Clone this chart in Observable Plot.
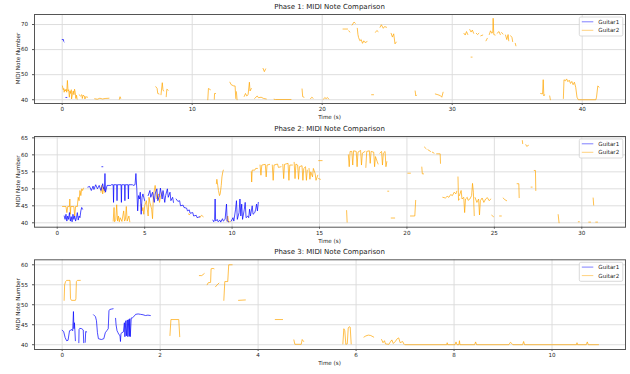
<!DOCTYPE html>
<html><head><meta charset="utf-8">
<script src="https://cdn.jsdelivr.net/npm/d3@7"></script>
<script src="https://cdn.jsdelivr.net/npm/@observablehq/plot@0.6"></script>
<style>
body{margin:0;background:#fff;}
#chart{position:relative;width:630px;height:374px;overflow:hidden;background:#fff;}
#chart svg{position:absolute;left:0;}
</style></head><body><div id="chart"></div>
<script>
// ---------- DATA (segments of [time s, MIDI note]) ----------
const seriesNames = ["Guitar1", "Guitar2"];
const panelTitles = ["Phase 1: MIDI Note Comparison", "Phase 2: MIDI Note Comparison", "Phase 3: MIDI Note Comparison"];

const phase1XTicks = [0, 10, 20, 30, 40];
const phase1YTicks = [40, 50, 60, 70];
const phase2XTicks = [0, 5, 10, 15, 20, 25, 30];
const phase2YTicks = [40, 45, 50, 55, 60, 65];
const phase3XTicks = [0, 2, 4, 6, 8, 10];
const phase3YTicks = [40, 45, 50, 55, 60];

const phase1Guitar1 = [
 [[0.0,64],[0.1,64],[0.11,63.3],[0.15,63.1]],
 [[0.28,40.9],[0.36,40.9]]
];
const phase1Guitar2 = [
 [[0.02,45.5],[0.08,44],[0.12,44.5],[0.15,43],[0.2,44],[0.25,43.5],[0.3,44.2],[0.35,43],[0.4,47.7],[0.45,43.5],[0.5,44],[0.55,41],[0.6,43.5],[0.65,42.5],[0.7,44],[0.72,40.3],[0.78,42],[0.85,43.5],[0.9,42],[0.95,44.2],[1.0,43],[1.05,40.5],[1.1,41.8],[1.15,40.2]],
 [[1.3,42],[1.4,41.5],[1.5,42],[1.55,40.5],[1.6,41.8],[1.7,41.5],[1.75,40.3],[1.8,41.2],[1.95,41]],
 [[2.5,40.4],[2.7,40.2],[2.9,40.6],[3.1,40.3],[3.3,40.5],[3.6,40.6]],
 [[4.4,40.2],[4.45,41.2],[4.5,40.5]],
 [[7.2,45.2],[7.3,44.5],[7.35,42.5],[7.45,42.3]],
 [[7.6,42],[7.7,46.8],[7.75,44],[7.8,43.5]],
 [[8.0,41.2],[8.05,44.2],[8.15,43.8]],
 [[11.2,40],[11.25,44.5],[11.4,44]],
 [[11.7,40.2],[11.72,42.5],[11.8,42.5]],
 [[12.9,47],[13.0,46],[13.2,45.5],[13.3,45.5],[13.35,40.5]],
 [[13.4,43.2],[13.45,40]],
 [[14.0,41.3],[14.1,42.5],[14.2,41.5],[14.3,42],[14.4,47],[14.45,43.5],[14.55,44.5]],
 [[14.8,40.5],[15.0,41.5],[15.1,40.8],[15.3,41],[15.5,40.5],[15.7,40.3]],
 [[15.45,52.5],[15.55,51.2],[15.65,52.3]],
 [[16.3,40.2],[16.4,40.1],[17.6,40.1]],
 [[18.45,44.3],[18.5,41.2],[18.6,41]],
 [[19.1,40.4],[19.2,41],[19.3,40.6]],
 [[20.1,40.2],[20.2,40.9],[20.3,40.4],[20.4,40.9],[20.5,40.3]],
 [[21.6,68.2],[21.95,68.2]],
 [[22.05,67.5],[22.12,67]],
 [[22.3,69.8],[22.45,71],[22.55,70.5]],
 [[22.7,68.5],[22.75,66],[22.8,64.8],[22.9,63.5],[23.0,64],[23.1,62.5],[23.2,63.5],[23.3,62.8],[23.45,63.2]],
 [[23.8,42],[23.95,42]],
 [[24.1,66.9],[24.2,67.6],[24.3,67.2]],
 [[24.45,68.9],[24.55,69.9],[24.7,68.5],[24.8,69.2],[24.95,68.9]],
 [[25.3,66.5],[25.4,65],[25.5,66.3],[25.6,62.3],[25.7,63]],
 [[27.15,43.5],[27.2,41.5],[27.25,41.8]],
 [[28.7,42.3],[28.9,42],[29.1,41.6],[29.2,41],[29.3,43]],
 [[30.9,66.5],[31.0,65.8],[31.1,67.2],[31.2,66]],
 [[31.35,68],[31.45,67],[31.55,67.8],[31.65,66.5]],
 [[31.85,66.5],[31.95,66],[32.05,66.5]],
 [[32.2,65.5],[32.35,65.8]],
 [[32.6,63.5],[32.7,64.5]],
 [[32.85,66],[32.95,67.5],[33.05,66.5],[33.12,67],[33.15,72.5],[33.2,66],[33.3,65.8]],
 [[33.45,66.5],[33.6,67.2],[33.7,66]],
 [[33.8,66.8],[33.9,66.2]],
 [[34.1,65.8],[34.2,64],[34.3,66],[34.35,63.5]],
 [[34.5,65.5],[34.6,64.8],[34.65,63.2]],
 [[34.85,62.5],[34.9,61.5]],
 [[31.45,57],[31.53,57]],
 [[36.8,42.5],[36.95,42.3],[37.0,48],[37.05,41.5],[37.1,42]],
 [[37.5,41.5],[37.55,40]],
 [[38.55,40.5],[38.6,48],[38.7,47.5],[38.8,48.3],[38.9,47.2],[39.0,47.8],[39.1,46.5],[39.2,47.3],[39.3,46],[39.4,47],[39.5,45],[39.6,41],[39.7,40],[41.05,40],[41.1,41],[41.2,45.5],[41.3,45]]
];

const phase2Guitar1 = [
 [[0.4,42],[0.45,41],[0.5,42.5],[0.55,40.5],[0.6,42],[0.65,41],[0.7,43],[0.75,40.5],[0.8,41.8],[0.85,40.3],[0.9,42.5],[0.95,41],[1.0,42],[1.05,40.5],[1.1,41.5],[1.15,43],[1.2,40.8],[1.25,42],[1.3,41.5],[1.35,43.5],[1.4,44.5],[1.45,44]],
 [[1.75,50.5],[1.85,50.7],[1.95,49.5],[2.05,50.8],[2.1,49.8],[2.2,51.2],[2.3,50],[2.4,51],[2.5,49.5],[2.6,51.5],[2.65,50]],
 [[2.55,56.5],[2.61,56.5]],
 [[2.7,49.5],[2.73,54.5],[2.76,49],[2.85,51],[3.05,51]],
 [[3.1,51.2],[3.2,51.2],[3.22,46],[3.24,51.2],[3.4,51.2],[3.42,46.5],[3.44,51.2],[3.65,51.2],[3.67,46],[3.69,51.2],[3.85,51.2],[3.87,46.5],[3.89,51.2],[4.05,51.2],[4.07,47],[4.09,51.2],[4.3,51.2]],
 [[4.35,51],[4.45,51.2],[4.5,54.5],[4.55,50],[4.6,43.5],[4.65,48],[4.7,47],[4.75,49],[4.8,42.5],[4.85,47.5],[4.9,48.5],[5.0,46.5]],
 [[5.2,48],[5.3,49.5],[5.35,47.5],[5.45,49],[5.55,46],[5.6,48.5],[5.7,50],[5.75,46.5],[5.85,48],[5.9,50.2],[6.0,47],[6.05,49.5],[6.15,46],[6.2,48],[6.3,50],[6.35,47.5],[6.45,49],[6.5,46.5],[6.6,47.5],[6.65,46]],
 [[6.8,47],[6.9,46.3],[7.0,46.5],[7.05,45],[7.2,45.2],[7.25,44.5],[7.4,44.3],[7.45,43.5],[7.55,43.8],[7.6,42.8],[7.75,43],[7.8,42],[7.95,42.2],[8.0,41.5],[8.15,41.8]],
 [[8.9,40.8],[8.95,40.3],[9.0,41],[9.03,47],[9.06,40.5],[9.15,41],[9.2,40.3],[9.3,40.8],[9.35,40.2],[9.45,41.2],[9.5,40.5],[9.6,41],[9.68,45.5],[9.72,40.5],[9.8,40.3]],
 [[9.95,40.5],[10.05,41.5],[10.1,40.5],[10.2,44],[10.25,46.5],[10.3,41],[10.4,43],[10.45,47],[10.5,42],[10.55,45.5],[10.6,41],[10.7,44],[10.75,46],[10.8,41.5],[10.9,42],[10.95,41.5],[11.0,44],[11.05,42],[11.15,45],[11.2,42.5],[11.3,43],[11.35,44],[11.4,45.5],[11.45,43.5],[11.5,46]]
];
const phase2Guitar2 = [
 [[0.3,44.8],[0.5,44.8],[0.55,43],[0.6,44.8],[0.7,44.8],[0.72,47],[0.75,42.5],[0.78,44.8],[0.95,44.8],[1.0,42],[1.05,44.8],[1.15,44.8]],
 [[1.15,45],[1.2,47.5],[1.25,46.5],[1.3,49.5],[1.35,48],[1.4,50],[1.45,49.5],[1.5,50.2]],
 [[2.5,49],[2.55,51],[2.6,48.5],[2.65,50.5],[2.7,49]],
 [[3.2,40.5],[3.25,44.5],[3.28,40.3],[3.35,41],[3.4,45.3],[3.45,40.5],[3.5,42],[3.55,40.3],[3.6,41.5],[3.7,40.4],[3.8,43.5],[3.85,40.5],[3.9,41],[3.95,44.8],[4.0,40.5],[4.1,42],[4.15,40.3]],
 [[4.8,45.5],[4.85,43.5],[4.9,44.5],[4.95,42.5],[5.0,45],[5.1,46.5],[5.15,44],[5.2,42],[5.25,47.5],[5.3,46],[5.4,44],[5.45,41.2],[5.5,48],[5.6,51],[5.65,49],[5.7,47],[5.8,48.5],[5.85,46],[5.9,47.5],[6.0,49]],
 [[7.5,42.6],[7.58,42.4]],
 [[8.15,41.5],[8.25,42.2],[8.35,41.8]],
 [[9.1,51.5],[9.13,52.8],[9.18,51],[9.22,49.5],[9.28,48],[9.32,48.5],[9.38,51],[9.42,53.5],[9.47,55],[9.5,55.5]],
 [[9.7,40.5],[9.75,42],[9.8,40.2],[9.9,40.4]],
 [[11.1,55],[11.12,52],[11.15,55.5],[11.3,55.5],[11.35,56],[11.45,56]],
 [[11.6,57],[11.65,54],[11.7,57],[11.9,57.2],[11.95,53.5],[12.0,57],[12.15,57.2]],
 [[12.3,57],[12.35,52.5],[12.4,57],[12.6,57.3],[12.65,56.3],[12.8,56.5]],
 [[12.9,57.2],[12.95,53],[13.0,57.2],[13.2,57.5],[13.25,52.5],[13.3,57],[13.45,57]],
 [[13.55,57.8],[13.6,53],[13.65,57.3],[13.75,57],[13.8,52.8],[13.85,56.5],[14.0,56.8],[14.05,52.5],[14.1,56],[14.2,56.5],[14.25,52.5],[14.3,55.5]],
 [[14.4,56],[14.45,52.8],[14.5,55],[14.6,53.5],[14.65,56],[14.75,54.5],[14.8,52.5],[14.9,54]],
 [[14.95,58.3],[15.15,58.3]],
 [[14.95,53],[15.05,52.8]],
 [[16.55,43.6],[16.58,40.2]],
 [[16.65,60],[16.7,56.5],[16.75,61],[16.85,61],[16.9,57],[16.95,61.2],[17.1,61],[17.15,56.5],[17.2,60.8],[17.35,61.3],[17.4,57],[17.45,60.5],[17.6,61]],
 [[17.65,56.3],[17.7,61],[17.85,61.2],[17.9,57.5],[17.95,61],[18.1,60.8],[18.15,56.5],[18.2,59.5],[18.3,58],[18.35,57.3]],
 [[18.45,60.5],[18.55,61],[18.6,57],[18.65,60.5],[18.75,61],[18.8,56.5],[18.85,58]],
 [[18.9,49.3],[18.96,49.3]],
 [[19.1,41.4],[19.3,41.4]],
 [[20.05,54.6],[20.2,54.6]],
 [[20.2,42],[20.45,42],[20.5,46.6]],
 [[20.85,56.4],[20.88,54.4],[20.95,54.4]],
 [[21.0,62.3],[21.1,61.8]],
 [[21.2,61.5],[21.35,61]],
 [[21.45,60.8],[21.55,60.5]],
 [[21.7,60.3],[21.9,60.3],[21.92,57.5]],
 [[22.05,47.5],[22.2,47.3],[22.3,47.8],[22.4,47.5],[22.5,48.3],[22.6,48],[22.7,49],[22.8,48.5],[22.85,49.3]],
 [[22.92,53.5],[22.95,46.6],[23.0,47]],
 [[23.0,48],[23.1,49.5],[23.15,47],[23.25,47.5],[23.3,43],[23.35,47],[23.45,47.5],[23.5,46.6],[23.6,47],[23.7,48],[23.75,51.6],[23.8,49],[23.85,42.1]],
 [[23.9,47.4],[24.0,46],[24.1,47],[24.15,42.3],[24.2,46.5],[24.3,47.3],[24.4,46],[24.5,47],[24.6,47.4],[24.7,46.5],[24.8,47]],
 [[24.85,42.2],[24.95,41.8]],
 [[25.3,42],[25.4,42]],
 [[25.5,47.3],[25.6,46.8],[25.7,46.5]],
 [[26.3,51.5],[26.4,51.5],[26.42,47.4]],
 [[26.6,64.2],[26.62,63.3]],
 [[26.8,63],[26.85,62.5],[26.95,62.8]],
 [[27.1,50.5],[27.16,50.5]],
 [[27.28,55.4],[27.35,55.4],[27.37,49.5]],
 [[28.65,42.4],[28.7,40]],
 [[29.8,40.3],[29.86,40.3]],
 [[30.4,40.2],[30.5,40.2]],
 [[30.65,47.3],[30.68,45.2]],
 [[30.8,40.2],[30.9,40.2]]
];

const phase3Guitar1 = [
 [[0.0,43.6],[0.03,43.3],[0.06,41.8],[0.09,41],[0.12,41.1],[0.15,43.5],[0.2,43.8],[0.215,43.5],[0.23,48.3],[0.24,44],[0.25,45.5],[0.26,43.5],[0.27,41]],
 [[0.34,40.5],[0.345,43.8],[0.36,44.1],[0.4,44],[0.43,43.7],[0.44,40.5]],
 [[0.47,40.6],[0.48,43.3],[0.5,43.2]],
 [[0.64,47.5],[0.68,47],[0.7,46],[0.72,43],[0.74,41.5],[0.8,41.3],[0.85,41.5],[0.88,43],[0.91,43.5],[0.94,44],[0.955,48.5],[0.97,48.8],[1.0,48.9],[1.04,49]],
 [[1.09,46.6],[1.1,45],[1.12,43.5],[1.14,43],[1.16,42.5],[1.18,42.3],[1.19,40.8],[1.2,42.8],[1.22,43],[1.25,43.2],[1.27,45.5],[1.28,42],[1.3,46],[1.31,42.2],[1.33,46.2],[1.34,42],[1.36,46.3],[1.37,42.1],[1.38,46.5],[1.39,42],[1.41,46.7],[1.43,46.7],[1.46,47],[1.5,47.6],[1.55,47.7],[1.6,47.6],[1.65,47.5],[1.7,47.3],[1.75,47.4],[1.8,47.3]]
];
const phase3Guitar2 = [
 [[0.04,51.1],[0.05,55],[0.07,55.8],[0.09,56.1],[0.16,56.1],[0.17,51.5],[0.19,51.1],[0.27,51.1],[0.28,51.5],[0.29,55.8],[0.31,56.1],[0.37,56.1]],
 [[2.2,42.3],[2.22,46.3],[2.38,46.3],[2.4,42]],
 [[2.8,57.3],[2.85,57.3],[2.9,57.8]],
 [[2.96,55],[2.98,55.5],[3.03,55.6],[3.04,59],[3.08,59.1],[3.1,59]],
 [[3.13,54.5],[3.18,55.2],[3.2,55.4]],
 [[3.3,51.1],[3.32,55.8],[3.38,55.8],[3.4,60],[3.47,60]],
 [[3.6,51.1],[3.74,51.2]],
 [[4.35,46.3],[4.5,46.3]],
 [[4.73,41.2],[4.75,40.1],[4.88,40.1],[4.9,41.3],[4.93,40.8]],
 [[5.73,40.2],[5.75,44],[5.77,43.5],[5.79,40.1],[5.82,40.2],[5.84,44.2],[5.86,44.5],[5.88,44.4],[5.9,40.2]],
 [[6.16,41.9],[6.2,42.2],[6.25,42.4],[6.3,42.3],[6.36,41.9]],
 [[6.52,41.3],[6.55,40.5],[6.58,41],[6.6,40.2],[6.67,40.1],[6.7,40.7],[6.73,41.2],[6.76,40.3],[6.8,40.8],[6.84,41.5],[6.87,41.7],[6.9,40.5],[6.95,40.8],[6.98,40.1]],
 [[7.0,40],[7.85,40],[7.86,40.5],[7.87,40],[8.02,40],[8.04,40.7],[8.06,40],[8.1,40],[8.11,41],[8.12,40],[8.42,40],[8.44,40.7],[8.46,40],[9.12,40],[9.15,40.6],[9.18,40.3],[9.2,40],[9.4,40],[9.42,40.8],[9.44,40],[10.5,40],[10.51,40.5],[10.52,40],[10.7,40],[10.72,40.7],[10.74,40],[10.95,40]]
];

// ---------- LAYOUT ----------
const colors = {Guitar1: "blue", Guitar2: "orange"};
const panels = [
 {title: panelTitles[0], g1: phase1Guitar1, g2: phase1Guitar2, xt: phase1XTicks, yt: phase1YTicks, xd: [-2.13, 43.33], yd: [38.5, 74.0], top: 0, h: 124, mt: 14, mb: 21},
 {title: panelTitles[1], g1: phase2Guitar1, g2: phase2Guitar2, xt: phase2XTicks, yt: phase2YTicks, xd: [-1.3, 32.5], yd: [38.7, 65.4], top: 124, h: 124, mt: 12, mb: 21.3},
 {title: panelTitles[2], g1: phase3Guitar1, g2: phase3Guitar2, xt: phase3XTicks, yt: phase3YTicks, xd: [-0.565, 11.5], yd: [38.8, 61.25], top: 248, h: 126, mt: 11.3, mb: 25}
];
const ML = 34, MR = 5, W = 630;
const chart = document.getElementById("chart");

function rowsOf(name, segs) {
  const rows = [];
  segs.forEach((seg, i) => seg.forEach(([t, m]) => rows.push({series: name, seg: name + "-" + i, t, m})));
  return rows;
}

panels.forEach(p => {
  const svg = Plot.plot({
    width: W, height: p.h,
    marginLeft: ML, marginRight: MR, marginTop: p.mt, marginBottom: p.mb,
    x: {domain: p.xd, label: null},
    y: {domain: p.yd, label: null},
    style: {fontFamily: "DejaVu Sans, sans-serif", fontSize: "5.6px", color: "#222", background: "transparent", overflow: "visible"},
    marks: [
      Plot.gridX(p.xt, {stroke: "#dadada", strokeOpacity: 1, strokeWidth: 0.9}),
      Plot.gridY(p.yt, {stroke: "#dadada", strokeOpacity: 1, strokeWidth: 0.9}),
      Plot.line(rowsOf("Guitar2", p.g2), {x: "t", y: "m", z: "seg", stroke: colors.Guitar2, strokeOpacity: 0.7, strokeWidth: 1, clip: true}),
      Plot.line(rowsOf("Guitar1", p.g1), {x: "t", y: "m", z: "seg", stroke: colors.Guitar1, strokeOpacity: 0.7, strokeWidth: 1, clip: true}),
      Plot.frame({stroke: "#555", strokeWidth: 1}),
      Plot.axisX(p.xt, {tickSize: 2, tickPadding: 1.5, label: null, stroke: "#555"}),
      Plot.axisY(p.yt, {tickSize: 2, tickPadding: 4.5, label: null, stroke: "#555"})
    ]
  });
  svg.style.top = p.top + "px";
  chart.appendChild(svg);
});

// overlay: titles, axis labels, legends
const ov = d3.select(chart).append("svg").attr("width", W).attr("height", 374)
  .style("top", "0px").style("font-family", "DejaVu Sans, sans-serif").style("pointer-events", "none");
const cx = (ML + W - MR) / 2;
panels.forEach(p => {
  const ft = p.top + p.mt, fb = p.top + p.h - p.mb;
  ov.append("text").attr("x", cx).attr("y", ft - 7.5).attr("text-anchor", "middle").attr("dominant-baseline", "central")
    .attr("font-size", 7).attr("fill", "#222").text(p.title);
  ov.append("text").attr("x", cx).attr("y", fb + 14.3).attr("text-anchor", "middle").attr("dominant-baseline", "central")
    .attr("font-size", 5.6).attr("fill", "#222").text("Time (s)");
  ov.append("text").attr("transform", `translate(17.5,${(ft + fb) / 2}) rotate(-90)`).attr("text-anchor", "middle").attr("dominant-baseline", "central")
    .attr("font-size", 5.6).attr("fill", "#222").text("MIDI Note Number");
  const bx = 579.3, by = ft + 3, bw = 43.5, bh = 19;
  const g = ov.append("g");
  g.append("rect").attr("x", bx).attr("y", by).attr("width", bw).attr("height", bh).attr("rx", 1.5)
    .attr("fill", "white").attr("fill-opacity", 0.85).attr("stroke", "#d0d0d0").attr("stroke-width", 0.8);
  seriesNames.forEach((s, i) => {
    const ly = by + 4.8 + i * 8.5;
    g.append("line").attr("x1", bx + 2.5).attr("x2", bx + 14).attr("y1", ly).attr("y2", ly)
      .attr("stroke", colors[s]).attr("stroke-opacity", 0.5).attr("stroke-width", 1);
    g.append("text").attr("x", bx + 19).attr("y", ly).attr("dominant-baseline", "central")
      .attr("font-size", 5.6).attr("fill", "#222").text(s);
  });
});
</script>
</body></html>
